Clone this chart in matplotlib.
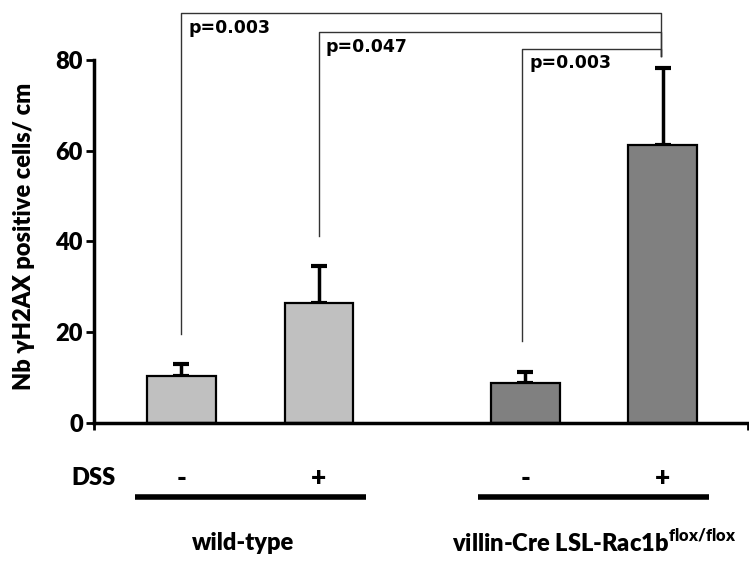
import matplotlib
matplotlib.use("Agg")
import matplotlib.pyplot as plt
import matplotlib.transforms as mtransforms
from matplotlib import font_manager

plt.rcParams['font.family'] = ['Lato', 'DejaVu Sans']
plt.rcParams['font.weight'] = 'heavy'
plt.rcParams['mathtext.fontset'] = 'custom'
plt.rcParams['mathtext.rm'] = 'Lato'
plt.rcParams['mathtext.bf'] = 'Lato:heavy'

# ---- data ----
groups = ["wild-type", "villin-Cre LSL-Rac1b$^{\\mathbf{flox/flox}}$"]
dss_labels = ["-", "+", "-", "+"]
bar_pos = [0, 1, 2.5, 3.5]
means = [10.3, 26.5, 8.8, 61.2]
errors = [2.6, 8.0, 2.4, 17.1]
bar_colors = ["#C0C0C0", "#C0C0C0", "#808080", "#808080"]
yticks = [0, 20, 40, 60, 80]
# brackets: (left x, left y, top y, p-label)
brackets = [(0, 19.5, 90.3, "p=0.003"),
            (1, 41.2, 86.1, "p=0.047"),
            (2.48, 18.1, 82.4, "p=0.003")]
bracket_right_x = 3.49
bracket_right_end = 80.8

lato = sorted({(f.name, f.weight) for f in font_manager.fontManager.ttflist
               if 'Lato' in f.name})
print(lato)

W, H = 749, 562
fig = plt.figure(figsize=(W / 100, H / 100), dpi=100)
ax = fig.add_axes([94 / W, (H - 422.7) / H, (748 - 94) / W, 422.7 / H])
ax.set_xlim(-0.636, 4.12)
ax.set_ylim(0, 93.2)

ax.bar(bar_pos, means, width=0.5, color=bar_colors, edgecolor="black",
       linewidth=1.6, zorder=2)
ax.errorbar(bar_pos, means, yerr=[[0] * 4, errors], fmt="none",
            ecolor="black", elinewidth=2.5, capsize=5.5, capthick=3, zorder=1)

for (lx, ly, ty, lab) in brackets:
    ax.plot([lx, lx, bracket_right_x, bracket_right_x],
            [ly, ty, ty, bracket_right_end], color="#333333", lw=1.0,
            clip_on=False, zorder=3)
    ax.text(lx + 0.05, ty - 4.3, lab, family="DejaVu Sans",
            fontweight="bold", fontsize=12.5, va="baseline", ha="left")

for s in ["top", "right"]:
    ax.spines[s].set_visible(False)
ax.spines["left"].set_linewidth(2.5)
ax.spines["bottom"].set_linewidth(2.5)
ax.spines["left"].set_bounds(0, 80)
ax.set_yticks(yticks)
ax.set_yticklabels([str(v) for v in yticks], fontsize=17, fontweight="heavy")
ax.tick_params(axis="y", length=6, width=2, pad=2)
ax.set_xticks([-0.636, 4.12])
ax.set_xticklabels(["", ""])
ax.tick_params(axis="x", length=5, width=2)

fig.text(24 / W, (H - 236) / H, "Nb \u03b3H2AX positive cells/ cm",
         rotation=90, ha="center", va="center", fontsize=17,
         fontweight="heavy")

trans = mtransforms.blended_transform_factory(ax.transData, fig.transFigure)
ax.text(-0.643, (H - 478) / H, "DSS", transform=trans, ha="center",
        va="center", fontsize=17, fontweight="heavy")
for x, lab in zip(bar_pos, dss_labels):
    ax.text(x, (H - 478) / H, lab, transform=trans, ha="center",
            va="center", fontsize=19, fontweight="heavy")

for (x0, x1) in [(-0.34, 1.34), (2.16, 3.84)]:
    ax.plot([x0, x1], [(H - 497) / H] * 2, transform=trans, color="black",
            lw=4, clip_on=False, solid_capstyle="butt")

ax.text(0.45, (H - 543) / H, groups[0], transform=trans, ha="center",
        va="center", fontsize=17, fontweight="heavy")
ax.text(3.0, (H - 543) / H, groups[1], transform=trans, ha="center",
        va="center", fontsize=17, fontweight="heavy")

fig.savefig("out.png", dpi=100)
